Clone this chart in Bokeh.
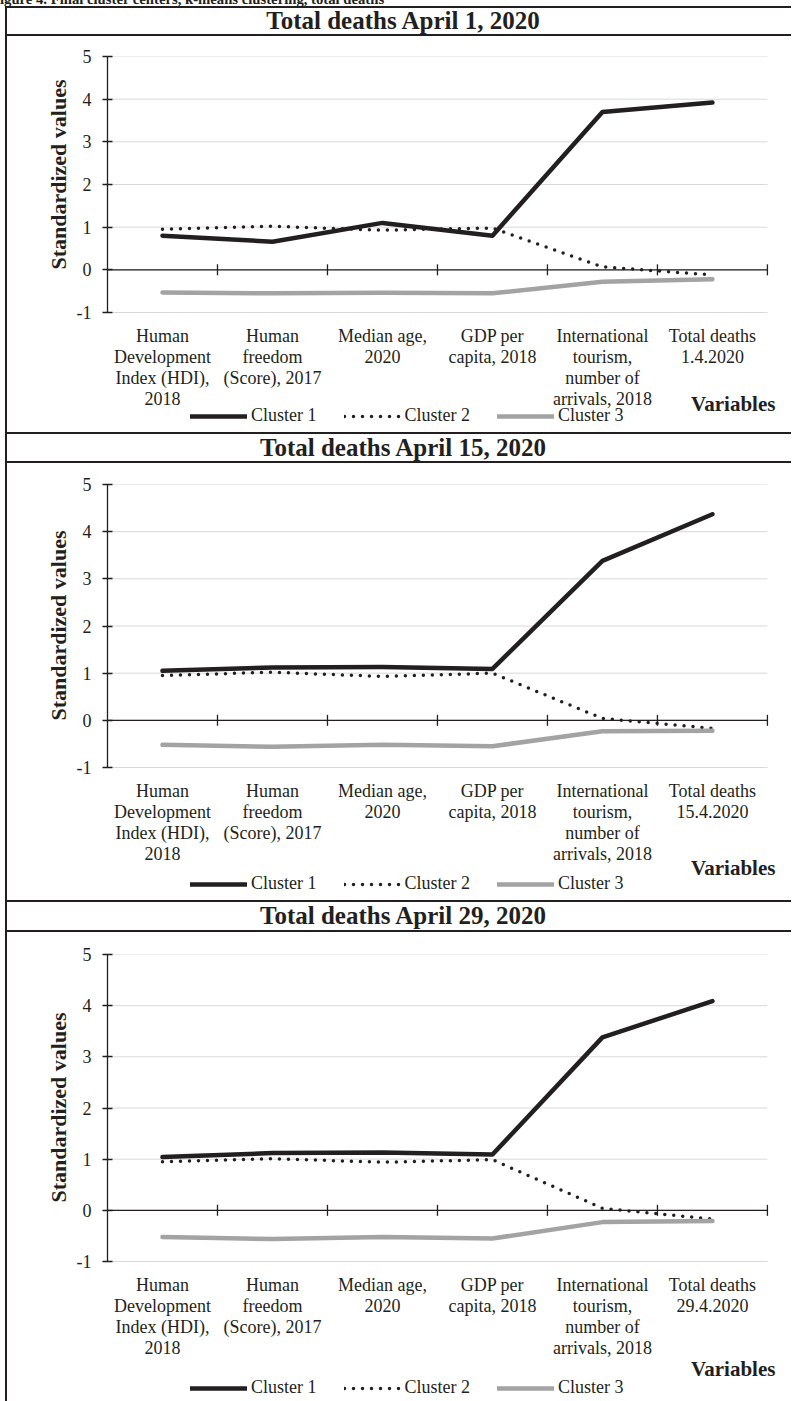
import numpy as np
from bokeh.embed import file_html
from bokeh.layouts import column
from bokeh.models import (Div, FixedTicker, Legend, LegendItem,
                          PrintfTickFormatter, Range1d, Title)
from bokeh.plotting import figure
from bokeh.resources import INLINE

# ---- data -----------------------------------------------------------------
variables = [
    "Human\nDevelopment\nIndex (HDI),\n2018",
    "Human\nfreedom\n(Score), 2017",
    "Median age,\n2020",
    "GDP per\ncapita, 2018",
    "International\ntourism,\nnumber of\narrivals, 2018",
]
death_dates = ["1.4.2020", "15.4.2020", "29.4.2020"]
panel_titles = [
    "Total deaths April 1, 2020",
    "Total deaths April 15, 2020",
    "Total deaths April 29, 2020",
]
series_names = ["Cluster 1", "Cluster 2", "Cluster 3"]
y_ticks = [-1, 0, 1, 2, 3, 4, 5]

apr01_cluster1 = [0.80, 0.66, 1.10, 0.80, 3.70, 3.92]
apr01_cluster2 = [0.95, 1.02, 0.93, 0.98, 0.07, -0.12]
apr01_cluster3 = [-0.53, -0.55, -0.54, -0.55, -0.28, -0.22]

apr15_cluster1 = [1.05, 1.12, 1.13, 1.09, 3.38, 4.37]
apr15_cluster2 = [0.95, 1.02, 0.93, 1.00, 0.04, -0.17]
apr15_cluster3 = [-0.52, -0.56, -0.52, -0.55, -0.23, -0.22]

apr29_cluster1 = [1.04, 1.12, 1.13, 1.09, 3.38, 4.09]
apr29_cluster2 = [0.95, 1.01, 0.94, 0.99, 0.04, -0.17]
apr29_cluster3 = [-0.52, -0.56, -0.52, -0.55, -0.23, -0.21]

caption_text = "Figure 4. Final cluster centers, k-means clustering, total deaths"

# ---- style ------------------------------------------------------------------
SERIF = "Liberation Serif"
INK = "#231f20"
GREY = "#a3a3a3"
GRID = "#d9d9d9"
BORDER = "2px solid " + INK

FIG_W = 786          # host width incl. 2px left rule
LEFT = 100           # room for the value axis
PLOT_W = 658         # width taken by the six categories


def make_panel(date, c1, c2, c3, height, top, plot_h,
               label_drop, var_drop, legend_bottom, ytitle_offset):
    labels = variables + ["Total deaths\n" + date]
    n = len(labels)
    centers = np.arange(n) + 0.5

    # the frame runs from the top of the value scale to the bottom of the
    # panel, so category labels, axis title and legend live inside it
    frame_w = FIG_W - 2 - LEFT
    px_per_unit = plot_h / (y_ticks[-1] - y_ticks[0])
    y_low = y_ticks[0] - (height - top - plot_h) / px_per_unit

    p = figure(
        width=FIG_W, height=height,
        x_range=Range1d(0, n * frame_w / PLOT_W),
        y_range=Range1d(y_low, y_ticks[-1]),
        output_backend="svg", toolbar_location=None,
        min_border_left=LEFT, min_border_right=0,
        min_border_top=top, min_border_bottom=0,
        outline_line_color=None,
        margin=(0, 0, 0, 5),
        styles={"border-left": BORDER},
    )
    p.xaxis.visible = False
    p.xgrid.visible = False
    p.ygrid.visible = False

    # value axis
    yax = p.yaxis[0]
    yax.bounds = (y_ticks[0], y_ticks[-1])
    yax.ticker = FixedTicker(ticks=y_ticks)
    yax.formatter = PrintfTickFormatter(format="%d")
    yax.axis_line_color = INK
    yax.axis_line_width = 1.3
    yax.major_tick_line_color = INK
    yax.major_tick_line_width = 1.3
    yax.major_tick_in = 5
    yax.major_tick_out = 5
    yax.minor_tick_line_color = None
    yax.major_label_text_font = SERIF
    yax.major_label_text_font_size = "18px"
    yax.major_label_text_color = INK
    yax.major_label_standoff = 11

    # value-axis title, set alongside the -1..5 scale
    p.add_layout(Title(
        text="Standardized values", align="right", offset=ytitle_offset,
        standoff=6, text_font=SERIF, text_font_size="22px",
        text_font_style="bold", text_color=INK,
    ), "left")

    # horizontal gridlines over the category span
    p.segment(x0=0, x1=n, y0=y_ticks, y1=y_ticks, line_color=GRID,
              line_width=1, level="underlay")
    # category axis crossing at zero, with tick marks between categories
    p.segment(x0=0, x1=n, y0=0, y1=0, line_color=INK, line_width=1.3,
              level="underlay")
    bounds = np.arange(1, n + 1)
    p.scatter(bounds, np.zeros(n), marker="dash", angle=np.pi / 2,
              size=11, line_color=INK, line_width=1.3)

    # category labels under the value scale
    p.text(x=centers, y=[y_ticks[0]] * n, text=labels, y_offset=label_drop,
           text_align="center", text_baseline="top",
           text_font=SERIF, text_font_size="18px", text_color=INK,
           text_line_height=1.065)
    p.text(x=[n], y=[y_ticks[0]], text=["Variables"], x_offset=8,
           y_offset=var_drop, text_align="right", text_baseline="alphabetic",
           text_font=SERIF, text_font_size="21px", text_font_style="bold",
           text_color=INK)

    r1 = p.line(centers, c1, line_color=INK, line_width=4.5,
                line_cap="round", line_join="round")
    r2 = p.line(centers, c2, line_color=INK, line_width=3.5,
                line_dash="0 9", line_cap="round")
    r3 = p.line(centers, c3, line_color=GREY, line_width=4.5,
                line_cap="round", line_join="round")

    legend = Legend(
        items=[LegendItem(label=s, renderers=[r])
               for s, r in zip(series_names, [r1, r2, r3])],
        orientation="horizontal", location=(83, legend_bottom),
        glyph_width=57, glyph_height=20, label_standoff=4, spacing=27,
        padding=0, margin=0, border_line_color=None,
        background_fill_alpha=0,
        label_text_font=SERIF, label_text_font_size="18px",
        label_text_color=INK,
    )
    p.add_layout(legend)
    return p


def title_div(text, h):
    return Div(
        text=text, width=FIG_W, height=h, margin=(0, 0, 0, 5),
        styles={
            "border-top": BORDER, "border-bottom": BORDER,
            "border-left": BORDER, "text-align": "center",
            "font-family": SERIF, "font-weight": "bold",
            "font-size": "25px", "line-height": f"{h - 4}px",
            "color": INK, "padding-left": "8px",
        },
    )


caption = Div(
    text=(f'<div style="position:relative; top:-8px; left:-9px; '
          f'white-space:nowrap; font-weight:bold; font-size:14.7px; '
          f'line-height:15px; font-family:\'{SERIF}\'; color:{INK}">'
          f'{caption_text}</div>'),
    width=793, height=6, margin=0, styles={"overflow": "hidden"},
)

p1 = make_panel(death_dates[0], apr01_cluster1, apr01_cluster2, apr01_cluster3,
                height=396, top=20, plot_h=256, label_drop=13, var_drop=91,
                legend_bottom=6, ytitle_offset=23)
p2 = make_panel(death_dates[1], apr15_cluster1, apr15_cluster2, apr15_cluster3,
                height=437, top=21, plot_h=283, label_drop=13, var_drop=100,
                legend_bottom=6, ytitle_offset=46)
p3 = make_panel(death_dates[2], apr29_cluster1, apr29_cluster2, apr29_cluster3,
                height=469, top=22, plot_h=307, label_drop=13, var_drop=107,
                legend_bottom=3, ytitle_offset=58)

layout = column(
    caption,
    title_div(panel_titles[0], 30), p1,
    title_div(panel_titles[1], 31), p2,
    title_div(panel_titles[2], 32), p3,
    spacing=0,
)

open("out.html", "w").write(file_html(layout, INLINE))
